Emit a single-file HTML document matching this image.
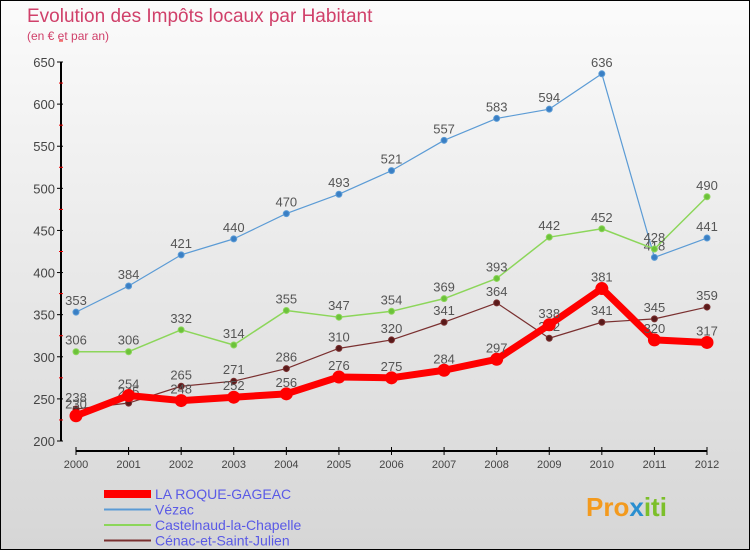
<!DOCTYPE html>
<html><head><meta charset="utf-8"><style>
body{margin:0}
#c{width:748px;height:548px;border:1px solid #000;background:linear-gradient(#fbfbfb,#d6d6d6);position:relative;font-family:"Liberation Sans",sans-serif;overflow:hidden}
svg{position:absolute;left:0;top:0}
</style></head><body>
<div id="c">
<svg id="s" width="750" height="550">
<text x="26" y="21" font-size="19" fill="#d0406a">Evolution des Impôts locaux par Habitant</text>
<text x="26" y="39" font-size="12" fill="#d0406a">(en € et par an)</text>
<text x="585" y="515" font-size="26" font-weight="bold" fill="#f39a1e">Pro<tspan fill="#2a8fd0">x</tspan><tspan fill="#7cbf2a">iti</tspan></text>
</svg>
</div>
<script>
const years=[2000,2001,2002,2003,2004,2005,2006,2007,2008,2009,2010,2011,2012];
const yTicks=[200,250,300,350,400,450,500,550,600,650];
const laRoque=[230,254,248,252,256,276,275,284,297,338,381,320,317];
const vezac=[353,384,421,440,470,493,521,557,583,594,636,418,441];
const castelnaud=[306,306,332,314,355,347,354,369,393,442,452,428,490];
const cenac=[238,245,265,271,286,310,320,341,364,322,341,345,359];
const NS="http://www.w3.org/2000/svg",s=document.getElementById('s');
const X=i=>75+i*(706-75)/12, Y=v=>440-(v-200)*(440-61)/450;
function el(t,a,p){const e=document.createElementNS(NS,t);for(const k in a)e.setAttribute(k,a[k]);(p||s).appendChild(e);return e;}
let ax=el('line',{x1:60,y1:61,x2:60,y2:440,stroke:'#000','stroke-width':2});


yTicks.forEach(v=>{el('line',{x1:56,x2:62,y1:Y(v),y2:Y(v),stroke:'#000'});
 el('line',{x1:58,x2:62,y1:Y(v+25),y2:Y(v+25),stroke:'#e00'});
 const t=el('text',{x:54,y:Y(v)+5,'text-anchor':'end','font-size':13,fill:'#444'});t.textContent=v;
 
 });
let xa=el('line',{x1:75,y1:450,x2:706,y2:450,stroke:'#000','stroke-width':2});


years.forEach((y,i)=>{el('line',{x1:X(i),x2:X(i),y1:446,y2:454,stroke:'#000'});
 const t=el('text',{x:X(i),y:467,'text-anchor':'middle','font-size':11,fill:'#444'});t.textContent=y;
 
 });
function series(d,col,w,r,name,fill){
 const g=el('g',{});
 
 
 el('polyline',{points:d.map((v,i)=>X(i)+','+Y(v)).join(' '),fill:'none',stroke:col,'stroke-width':w,'stroke-linejoin':'round'},g);
 d.forEach((v,i)=>{el('circle',{cx:X(i),cy:Y(v),r:r,fill:fill,stroke:col},g);
  const t=el('text',{x:X(i),y:Y(v)-7,'text-anchor':'middle','font-size':13,fill:'#555'},g);t.textContent=v;});
}
series(vezac,'#5b9bd5',1.2,3,'series-vezac','#3a7fc4');
series(castelnaud,'#8cd65a',1.5,3,'series-castelnaud','#6cc23a');
series(cenac,'#7a3030',1.2,3,'series-cenac','#5a1a1a');
series(laRoque,'#f00',7,6,'series-la-roque-gageac','#f00');
const leg=[['LA ROQUE-GAGEAC','#f00',8],['Vézac','#5b9bd5',2],['Castelnaud-la-Chapelle','#8cd65a',2],['Cénac-et-Saint-Julien','#7a3030',2]];
leg.forEach((l,i)=>{const y=493+i*15.5;
 const g=el('g',{});
 
 
 el('line',{x1:103,x2:150,y1:y,y2:y,stroke:l[1],'stroke-width':l[2]},g);
 const t=el('text',{x:154,y:y+5,'font-size':14,fill:'#5a5ae6'},g);t.textContent=l[0];});
</script>
</body></html>
